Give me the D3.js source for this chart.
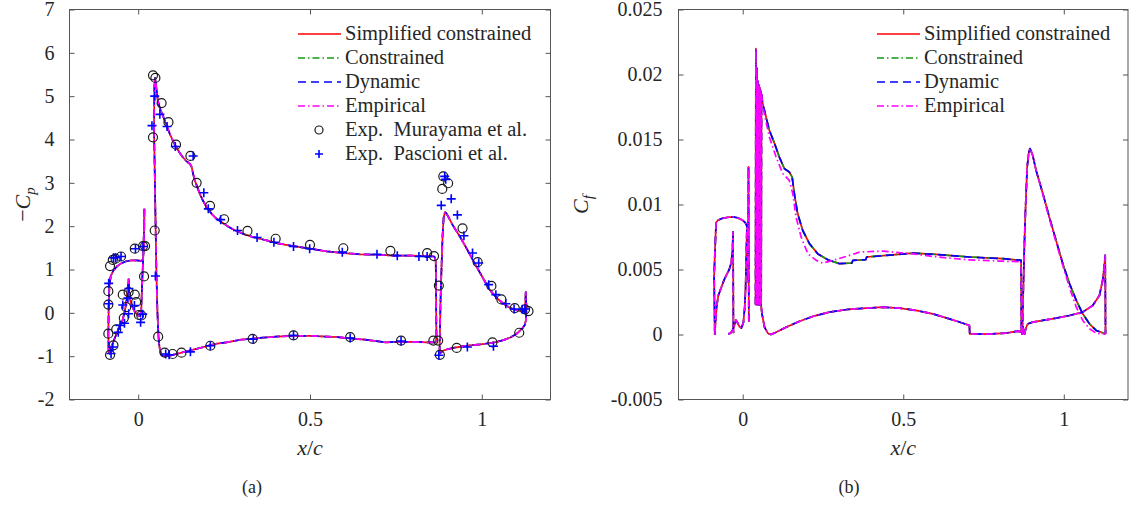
<!DOCTYPE html>
<html>
<head>
<meta charset="utf-8">
<script src="https://cdn.jsdelivr.net/npm/d3@7"></script>
<style>
body { margin: 0; background: #fff; }
text { font-family: "Liberation Serif", "Times New Roman", serif; fill: #262626; }
</style>
</head>
<body>
<svg id="fig" width="1129" height="505"></svg>
<script>
// ---- eixos ----
const dominioX = [-0.2, 1.2];
const ticksX = [0, 0.5, 1];
const ticksCp = [-2, -1, 0, 1, 2, 3, 4, 5, 6, 7];
const ticksCf = [-0.005, 0, 0.005, 0.01, 0.015, 0.02, 0.025];

// ---- (a) -Cp, curvas numéricas (iguais nos quatro modelos) ----
const cpSlat = [
  [0.018, 2.40], [0.017, 1.6], [0.014, 1.22], [0.008, 1.2], [-0.005, 1.21], [-0.02, 1.21],
  [-0.035, 1.19], [-0.05, 1.14], [-0.062, 1.07], [-0.072, 0.98], [-0.080, 0.85], [-0.084, 0.6],
  [-0.086, 0.1], [-0.087, -0.5], [-0.086, -0.9], [-0.083, -0.95], [-0.078, -0.78], [-0.07, -0.62],
  [-0.063, -0.48], [-0.055, -0.33], [-0.046, -0.18], [-0.040, 0.0], [-0.035, 0.22], [-0.031, 0.5],
  [-0.028, 0.78], [-0.026, 0.45], [-0.022, 0.24], [-0.016, 0.12], [-0.008, 0.0], [0.0, -0.06],
  [0.006, -0.08], [0.009, 0.1], [0.011, 0.6], [0.013, 1.0], [0.015, 1.4], [0.017, 2.0], [0.018, 2.40]
];
const cpMain = [
  [0.046, 4.2], [0.047, 5.2], [0.049, 5.42], [0.052, 5.25], [0.057, 4.9], [0.064, 4.7], [0.072, 4.55],
  [0.082, 4.33], [0.092, 4.13], [0.102, 3.95], [0.111, 3.82], [0.12, 3.7], [0.130, 3.59], [0.140, 3.5],
  [0.150, 3.44], [0.155, 3.38], [0.160, 3.2], [0.165, 3.05], [0.172, 2.9], [0.179, 2.75], [0.189, 2.58],
  [0.199, 2.44], [0.213, 2.29], [0.228, 2.17], [0.245, 2.08], [0.26, 2.0], [0.28, 1.91], [0.306, 1.82],
  [0.33, 1.76], [0.354, 1.71], [0.38, 1.66], [0.403, 1.61], [0.43, 1.57], [0.452, 1.54], [0.5, 1.48],
  [0.549, 1.42], [0.598, 1.38], [0.647, 1.35], [0.695, 1.34], [0.744, 1.32], [0.793, 1.32], [0.841, 1.31],
  [0.862, 1.30], [0.866, 1.2], [0.867, 0.3], [0.868, -0.55], [0.866, -0.68], [0.84, -0.68], [0.8, -0.67],
  [0.76, -0.67], [0.72, -0.68], [0.70, -0.66], [0.66, -0.62], [0.617, -0.59], [0.58, -0.56], [0.549, -0.55],
  [0.5, -0.53], [0.452, -0.53], [0.4, -0.55], [0.354, -0.58], [0.3, -0.62], [0.257, -0.68], [0.23, -0.71],
  [0.208, -0.75], [0.185, -0.8], [0.160, -0.85], [0.135, -0.9], [0.111, -0.95], [0.095, -0.98], [0.082, -1.0],
  [0.072, -0.99], [0.066, -0.95], [0.062, -0.8], [0.059, -0.55], [0.056, 0.0], [0.053, 0.9], [0.051, 1.8],
  [0.049, 2.8], [0.047, 3.8], [0.046, 4.2]
];
const cpFlap = [
  [0.877, -0.95], [0.878, -0.5], [0.880, 0.3], [0.883, 1.1], [0.886, 1.8], [0.889, 2.2], [0.893, 2.33],
  [0.898, 2.28], [0.905, 2.18], [0.915, 2.03], [0.925, 1.9], [0.937, 1.75], [0.95, 1.57], [0.965, 1.35],
  [0.985, 1.06], [1.005, 0.78], [1.024, 0.52], [1.044, 0.34], [1.063, 0.21], [1.083, 0.11], [1.102, 0.06],
  [1.115, 0.03], [1.122, 0.03], [1.126, 0.1], [1.128, 0.48], [1.130, 0.1], [1.129, -0.15], [1.125, -0.28],
  [1.118, -0.36], [1.102, -0.48], [1.083, -0.57], [1.063, -0.63], [1.044, -0.67], [1.024, -0.70],
  [0.995, -0.73], [0.966, -0.75], [0.94, -0.78], [0.917, -0.81], [0.9, -0.84], [0.888, -0.87],
  [0.881, -0.92], [0.877, -0.95]
];

// ---- (a) experimentos ----
const expMurayama = [
  [0.043, 5.48], [0.050, 5.42], [0.068, 4.84], [0.088, 4.4], [0.110, 3.88], [0.152, 3.62], [0.170, 3.0],
  [0.209, 2.47], [0.250, 2.16], [0.318, 1.89], [0.400, 1.71], [0.500, 1.57], [0.597, 1.49], [0.734, 1.43],
  [0.841, 1.38], [0.861, 1.31], [0.875, 0.63], [0.043, 4.05], [0.048, 1.9], [0.058, -0.55], [0.077, -0.92],
  [0.100, -0.95], [0.126, -0.92], [0.210, -0.76], [0.333, -0.6], [0.452, -0.52], [0.617, -0.56],
  [0.765, -0.64], [0.859, -0.64], [0.873, -0.64], [0.888, 3.15], [0.902, 2.99], [0.885, 2.86],
  [0.944, 1.95], [0.988, 1.17], [1.028, 0.62], [1.057, 0.31], [1.096, 0.11], [1.126, 0.08], [1.136, 0.04],
  [0.878, -0.97], [0.927, -0.81], [1.031, -0.68], [1.109, -0.46],
  [0.014, 1.54], [0.020, 1.54], [-0.010, 1.48], [-0.050, 1.30], [-0.066, 1.25], [-0.074, 1.22],
  [-0.082, 1.08], [-0.087, 0.5], [-0.087, 0.19], [-0.087, -0.48], [-0.072, -0.75], [-0.082, -0.97],
  [-0.064, -0.38], [-0.045, 0.42], [-0.028, 0.48], [-0.010, 0.42], [-0.006, 0.25], [-0.035, 0.13],
  [-0.042, -0.12], [0.002, -0.05], [0.009, -0.06], [0.017, 0.84]
];
const expPascioni = [
  [0.048, 5.0], [0.040, 4.32], [0.063, 4.58], [0.084, 4.3], [0.108, 3.84], [0.160, 3.62], [0.191, 2.77],
  [0.204, 2.4], [0.240, 2.15], [0.289, 1.9], [0.346, 1.74], [0.395, 1.63], [0.452, 1.53], [0.499, 1.48],
  [0.594, 1.4], [0.695, 1.35], [0.754, 1.32], [0.817, 1.3], [0.841, 1.3],
  [0.050, 0.85], [0.080, -0.95], [0.090, -0.97], [0.152, -0.9], [0.210, -0.76], [0.335, -0.61],
  [0.452, -0.52], [0.617, -0.58], [0.765, -0.65],
  [0.892, 3.15], [0.895, 3.08], [0.882, 2.48], [0.911, 2.63], [0.929, 2.26], [0.948, 1.78], [0.973, 1.38],
  [0.991, 1.15], [1.020, 0.65], [1.041, 0.42], [1.070, 0.21], [1.094, 0.09], [1.118, 0.08], [1.126, 0.09],
  [0.875, -0.98], [0.958, -0.79], [1.034, -0.77],
  [0.014, 1.53], [-0.008, 1.48], [-0.050, 1.30], [-0.066, 1.27], [-0.072, 1.27], [-0.086, 0.68],
  [-0.086, 0.21], [-0.079, -0.94], [-0.074, -0.79], [-0.058, -0.45], [-0.053, -0.29], [-0.040, -0.24],
  [-0.045, 0.18], [-0.030, 0.34], [-0.028, -0.02], [-0.011, 0.17], [-0.027, 0.56], [0.007, -0.22],
  [0.013, -0.03]
];

// ---- (b) Cf ----
const cfSlatUpper = [
  [0.019, 0.0010], [0.018, 0.0129], [0.017, 0.0040], [0.015, 0.0081], [0.012, 0.0084], [0.008, 0.0086],
  [0.0, 0.00878], [-0.016, 0.00898], [-0.031, 0.00905], [-0.05, 0.0090], [-0.065, 0.00892],
  [-0.078, 0.00878], [-0.083, 0.0086], [-0.087, 0.0060], [-0.089, 0.0045], [-0.087, 0.0]
];
const cfSlatLower = [
  [-0.087, 0.0], [-0.084, 0.0012], [-0.081, 0.0022], [-0.076, 0.0030], [-0.067, 0.0036], [-0.058, 0.0042],
  [-0.05, 0.0046], [-0.042, 0.0050], [-0.036, 0.0055], [-0.032, 0.0064], [-0.030, 0.0079],
  [-0.029, 0.0003], [-0.028, 0.0001]
];
const cfSlatCove = [
  [-0.045, 0.00005], [-0.038, 0.0001], [-0.032, 0.0003], [-0.026, 0.0007], [-0.021, 0.0011],
  [-0.016, 0.0009], [-0.010, 0.0006], [-0.004, 0.0005], [0.002, 0.0009], [0.006, 0.002], [0.009, 0.0036],
  [0.011, 0.0060], [0.013, 0.0081]
];
const cfMainBand = [
  [0.040, 0.0023], [0.041, 0.0220], [0.0425, 0.0023], [0.044, 0.0205], [0.0455, 0.0023], [0.047, 0.0195],
  [0.0485, 0.0023], [0.050, 0.0192], [0.0515, 0.0023], [0.053, 0.0190], [0.0545, 0.0023], [0.056, 0.0188],
  [0.0575, 0.0023], [0.0585, 0.0185]
];
const cfMainUpper = [
  [0.0585, 0.0185], [0.062, 0.0178], [0.073, 0.0167], [0.083, 0.0157], [0.099, 0.0147], [0.114, 0.01365],
  [0.130, 0.01275], [0.145, 0.0125], [0.154, 0.0121], [0.161, 0.0108], [0.171, 0.0093], [0.187, 0.0080],
  [0.208, 0.00698], [0.234, 0.0062], [0.265, 0.00575], [0.301, 0.00545], [0.34, 0.0055], [0.343, 0.0057],
  [0.383, 0.00575], [0.386, 0.00596], [0.447, 0.00608], [0.530, 0.00626], [0.602, 0.00616],
  [0.706, 0.00596], [0.81, 0.00583], [0.867, 0.0057], [0.868, 0.0002]
];
const cfMainUpperEmp = [
  [0.0585, 0.0185], [0.062, 0.0176], [0.073, 0.0163], [0.083, 0.0152], [0.104, 0.01365], [0.125, 0.01237],
  [0.145, 0.01185], [0.156, 0.01083], [0.166, 0.00903], [0.182, 0.00749], [0.203, 0.00621],
  [0.229, 0.0057], [0.249, 0.00549], [0.28, 0.0057], [0.322, 0.006], [0.364, 0.00634], [0.436, 0.00642],
  [0.53, 0.0062], [0.6, 0.00598], [0.7, 0.00575], [0.8, 0.00565], [0.867, 0.0056], [0.868, 0.0002]
];
const cfMainLower = [
  [0.868, 0.0002], [0.857, 0.00026], [0.82, 0.0001], [0.76, 0.00003], [0.707, 0.00005], [0.706, 0.0007],
  [0.67, 0.001], [0.644, 0.0012], [0.592, 0.00159], [0.540, 0.00185], [0.488, 0.00203], [0.436, 0.0021],
  [0.384, 0.00203], [0.33, 0.00194], [0.27, 0.00172], [0.218, 0.00139], [0.177, 0.00102],
  [0.135, 0.00056], [0.104, 0.00018], [0.088, 0.0], [0.078, 0.0001], [0.068, 0.00056], [0.060, 0.00159],
  [0.057, 0.0023]
];
const cfFlapUpper = [
  [0.871, 0.0], [0.873, 0.0025], [0.875, 0.00467], [0.878, 0.0075], [0.881, 0.0098], [0.886, 0.0129],
  [0.891, 0.0140], [0.895, 0.0143], [0.903, 0.0138], [0.914, 0.0126], [0.935, 0.01083], [0.955, 0.00903],
  [0.976, 0.00724], [0.997, 0.00544], [1.018, 0.0039], [1.039, 0.00262], [1.059, 0.00159],
  [1.08, 0.00082], [1.101, 0.00031], [1.121, 0.00013], [1.13, 0.00005]
];
const cfFlapUpperEmp = [
  [0.871, 0.0], [0.873, 0.0025], [0.875, 0.00467], [0.878, 0.0075], [0.881, 0.0098], [0.886, 0.0129],
  [0.891, 0.0140], [0.895, 0.0143], [0.903, 0.0138], [0.914, 0.0126], [0.935, 0.01075], [0.955, 0.0089],
  [0.976, 0.0071], [0.997, 0.0053], [1.018, 0.0036], [1.039, 0.0021], [1.059, 0.00108],
  [1.08, 0.00044], [1.101, 0.0001], [1.121, 0.00005], [1.13, 0.00005]
];
const cfFlapLower = [
  [0.871, 0.0], [0.873, 0.0006], [0.875, 0.0003], [0.878, 0.00005], [0.882, 0.0005], [0.888, 0.00082],
  [0.903, 0.00095], [0.935, 0.00108], [0.976, 0.00126], [1.018, 0.00146], [1.059, 0.00172],
  [1.09, 0.00223], [1.111, 0.003], [1.121, 0.00416], [1.126, 0.0052], [1.129, 0.00608], [1.13, 0.00005]
];

const cpCurvas = [cpSlat, cpMain, cpFlap];
const cfPadrao = [cfSlatUpper, cfSlatLower, cfSlatCove, cfMainBand, cfMainUpper, cfMainLower, cfFlapUpper, cfFlapLower];
const cfEmpirico = [cfSlatUpper, cfSlatLower, cfSlatCove, cfMainBand, cfMainUpperEmp, cfMainLower, cfFlapUpperEmp, cfFlapLower];

const modelos = [
  { nome: "Simplified constrained", cor: "#ff0000", traco: null, cp: cpCurvas, cf: cfPadrao },
  { nome: "Constrained", cor: "#0f9a0f", traco: "7,3,1.5,3", cp: cpCurvas, cf: cfPadrao },
  { nome: "Dynamic", cor: "#0000ff", traco: "8,5", cp: cpCurvas, cf: cfPadrao },
  { nome: "Empirical", cor: "#ff00ff", traco: "7,3,1.5,3", cp: cpCurvas, cf: cfEmpirico }
];

const svg = d3.select("#fig");
svg.append("rect").attr("width", 1129).attr("height", 505).attr("fill", "#fff");

const corEixo = "#555";
const fonte = "'Liberation Serif', 'Times New Roman', serif";

function desenharPainel(cfg) {
  const x = d3.scaleLinear().domain(dominioX).range([cfg.esq, cfg.dir]);
  const y = d3.scaleLinear().domain(cfg.dominioY).range([cfg.base, cfg.topo]);
  const g = svg.append("g");

  // ticks para dentro nos quatro lados
  const eixos = [
    [d3.axisBottom(x).tickValues(ticksX), cfg.base, "x", true],
    [d3.axisTop(x).tickValues(ticksX), cfg.topo, "x", false],
    [d3.axisLeft(y).tickValues(cfg.ticksY), cfg.esq, "y", true],
    [d3.axisRight(y).tickValues(cfg.ticksY), cfg.dir, "y", false]
  ];
  eixos.forEach(([eixo, pos, tipo, rotulos]) => {
    eixo.tickSizeInner(-5).tickSizeOuter(0)
      .tickPadding(tipo === "x" ? 12 : cfg.padY)
      .tickFormat(rotulos ? (d => String(d)) : "");
    const ge = g.append("g")
      .attr("transform", tipo === "x" ? `translate(0,${pos})` : `translate(${pos},0)`)
      .call(eixo)
      .attr("font-family", fonte)
      .attr("font-size", 20)
      .attr("color", corEixo);
    ge.select(".domain").remove();
    ge.selectAll("text").attr("fill", "#262626").style("font-family", fonte);
  });

  g.append("rect")
    .attr("x", cfg.esq).attr("y", cfg.topo)
    .attr("width", cfg.dir - cfg.esq).attr("height", cfg.base - cfg.topo)
    .attr("fill", "none").attr("stroke", corEixo).attr("stroke-width", 1);

  const linha = d3.line().x(d => x(d[0])).y(d => y(d[1]));

  modelos.forEach(m => {
    m[cfg.campo].forEach(seg => {
      g.append("path")
        .attr("d", linha(seg))
        .attr("fill", "none")
        .attr("stroke", m.cor)
        .attr("stroke-width", 1.7)
        .attr("stroke-linejoin", "round")
        .attr("stroke-dasharray", m.traco);
    });
  });

  if (cfg.experimentos) {
    g.selectAll(".murayama")
      .data(expMurayama)
      .enter()
      .append("circle")
      .attr("cx", d => x(d[0]))
      .attr("cy", d => y(d[1]))
      .attr("r", 4.5)
      .attr("fill", "none")
      .attr("stroke", "#1a1a1a")
      .attr("stroke-width", 1.2);

    g.selectAll(".pascioni")
      .data(expPascioni)
      .enter()
      .append("path")
      .attr("transform", d => `translate(${x(d[0])},${y(d[1])})`)
      .attr("d", "M-4.5,0H4.5M0,-4.5V4.5")
      .attr("stroke", "#0000ff")
      .attr("stroke-width", 1.6);
  }

  // rótulos dos eixos
  const cx = (cfg.esq + cfg.dir) / 2;
  const rx = g.append("text")
    .attr("x", cx).attr("y", 455)
    .attr("text-anchor", "middle")
    .attr("font-size", 22);
  rx.append("tspan").attr("font-style", "italic").text("x");
  rx.append("tspan").text("/");
  rx.append("tspan").attr("font-style", "italic").text("c");

  const ry = g.append("text")
    .attr("transform", `translate(${cfg.xRotuloY},${(cfg.topo + cfg.base) / 2}) rotate(-90)`)
    .attr("text-anchor", "middle")
    .attr("font-size", 22);
  if (cfg.menos) ry.append("tspan").text("\u2212");
  ry.append("tspan").attr("font-style", "italic").text("C");
  ry.append("tspan").attr("font-style", "italic").attr("font-size", 15).attr("dy", 5).text(cfg.sub);

  g.append("text")
    .attr("x", cfg.xLegenda).attr("y", 493)
    .attr("text-anchor", "middle")
    .attr("font-size", 18)
    .text(cfg.letra);

  // legenda
  const itens = modelos.map(m => ({ nome: m.nome, cor: m.cor, traco: m.traco }));
  if (cfg.experimentos) {
    itens.push({ nome: "Exp.  Murayama et al.", marca: "circulo" });
    itens.push({ nome: "Exp.  Pascioni et al.", marca: "mais" });
  }
  itens.forEach((it, i) => {
    const yy = 34 + i * 24;
    const x0 = cfg.legX;
    if (it.marca === "circulo") {
      g.append("circle").attr("cx", x0 + 21).attr("cy", yy).attr("r", 4)
        .attr("fill", "none").attr("stroke", "#1a1a1a").attr("stroke-width", 1.2);
    } else if (it.marca === "mais") {
      g.append("path").attr("transform", `translate(${x0 + 21},${yy})`)
        .attr("d", "M-4,0H4M0,-4V4").attr("stroke", "#0000ff").attr("stroke-width", 1.6);
    } else {
      g.append("line").attr("x1", x0).attr("x2", x0 + 43).attr("y1", yy).attr("y2", yy)
        .attr("stroke", it.cor).attr("stroke-width", 1.7).attr("stroke-dasharray", it.traco);
    }
    g.append("text").attr("x", x0 + 47).attr("y", yy + 6)
      .attr("font-size", 20.5)
      .style("white-space", "pre")
      .text(it.nome);
  });
}

desenharPainel({
  esq: 69.5, dir: 550.5, topo: 9.5, base: 399.5,
  dominioY: [-2, 7], ticksY: ticksCp, padY: 15,
  campo: "cp", experimentos: true,
  xRotuloY: 30, menos: true, sub: "p",
  letra: "(a)", xLegenda: 252, legX: 298
});

desenharPainel({
  esq: 678.5, dir: 1128, topo: 9.5, base: 399.5,
  dominioY: [-0.005, 0.025], ticksY: ticksCf, padY: 16,
  campo: "cf", experimentos: false,
  xRotuloY: 588, menos: false, sub: "f",
  letra: "(b)", xLegenda: 849, legX: 877
});
</script>
</body>
</html>
